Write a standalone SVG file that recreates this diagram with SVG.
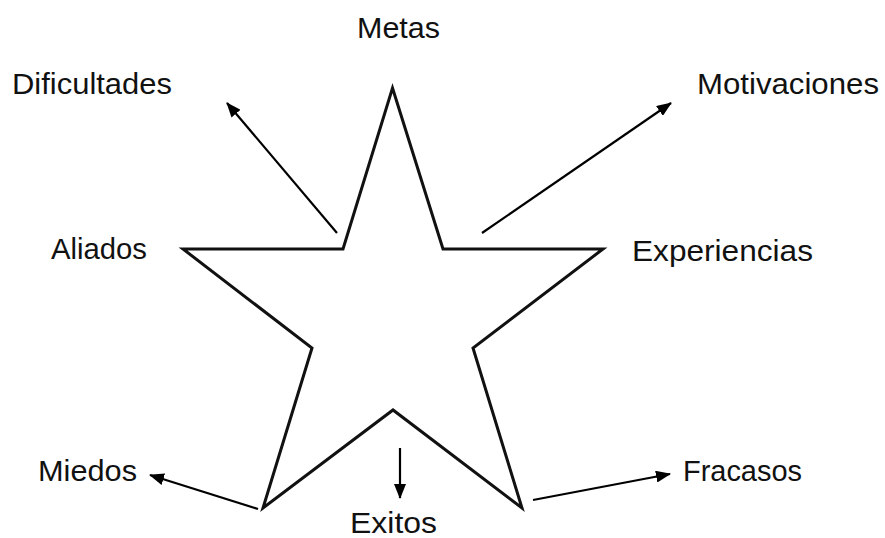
<svg xmlns="http://www.w3.org/2000/svg" width="885" height="538" viewBox="0 0 885 538">
<style>
.lbl{font-family:"Liberation Sans",Arial,sans-serif;font-size:30px;fill:#111}
.star{fill:#fff;stroke:#111;stroke-width:3;stroke-linejoin:miter}
.con{stroke:#000;stroke-width:2.2;fill:none;marker-end:url(#ah)}
</style>
<defs>
<marker id="ah" viewBox="0 0 15 12" refX="14" refY="6" markerWidth="15" markerHeight="12" markerUnits="userSpaceOnUse" orient="auto">
<path d="M0,0 L15,6 L0,12 z" fill="#000"/>
</marker>
</defs>
<rect width="885" height="538" fill="#fff"/>
<g id="star">
<polygon class="star" points="392.5,88 443,249 603,249 473,348 522,508 393,410 263,508 312,348 183,249 343,249"/>
</g>
<g id="connectors">
<line class="con" x1="337" y1="233" x2="227" y2="103"/>
<line class="con" x1="482" y1="233" x2="671" y2="103"/>
<line class="con" x1="400" y1="448" x2="400" y2="498"/>
<line class="con" x1="258" y1="509" x2="150" y2="475"/>
<line class="con" x1="533" y1="500" x2="670" y2="474"/>
</g>
<g id="metas"><text class="lbl" x="357" y="38" textLength="83" lengthAdjust="spacingAndGlyphs">Metas</text></g>
<g id="dificultades"><text class="lbl" x="12" y="94" textLength="160" lengthAdjust="spacingAndGlyphs">Dificultades</text></g>
<g id="motivaciones"><text class="lbl" x="697" y="94" textLength="182" lengthAdjust="spacingAndGlyphs">Motivaciones</text></g>
<g id="aliados"><text class="lbl" x="51" y="259" textLength="96" lengthAdjust="spacingAndGlyphs">Aliados</text></g>
<g id="experiencias"><text class="lbl" x="632" y="261" textLength="181" lengthAdjust="spacingAndGlyphs">Experiencias</text></g>
<g id="miedos"><text class="lbl" x="38" y="481" textLength="99" lengthAdjust="spacingAndGlyphs">Miedos</text></g>
<g id="fracasos"><text class="lbl" x="683" y="481" textLength="119" lengthAdjust="spacingAndGlyphs">Fracasos</text></g>
<g id="exitos"><text class="lbl" x="350" y="533" textLength="87" lengthAdjust="spacingAndGlyphs">Exitos</text></g>
</svg>
